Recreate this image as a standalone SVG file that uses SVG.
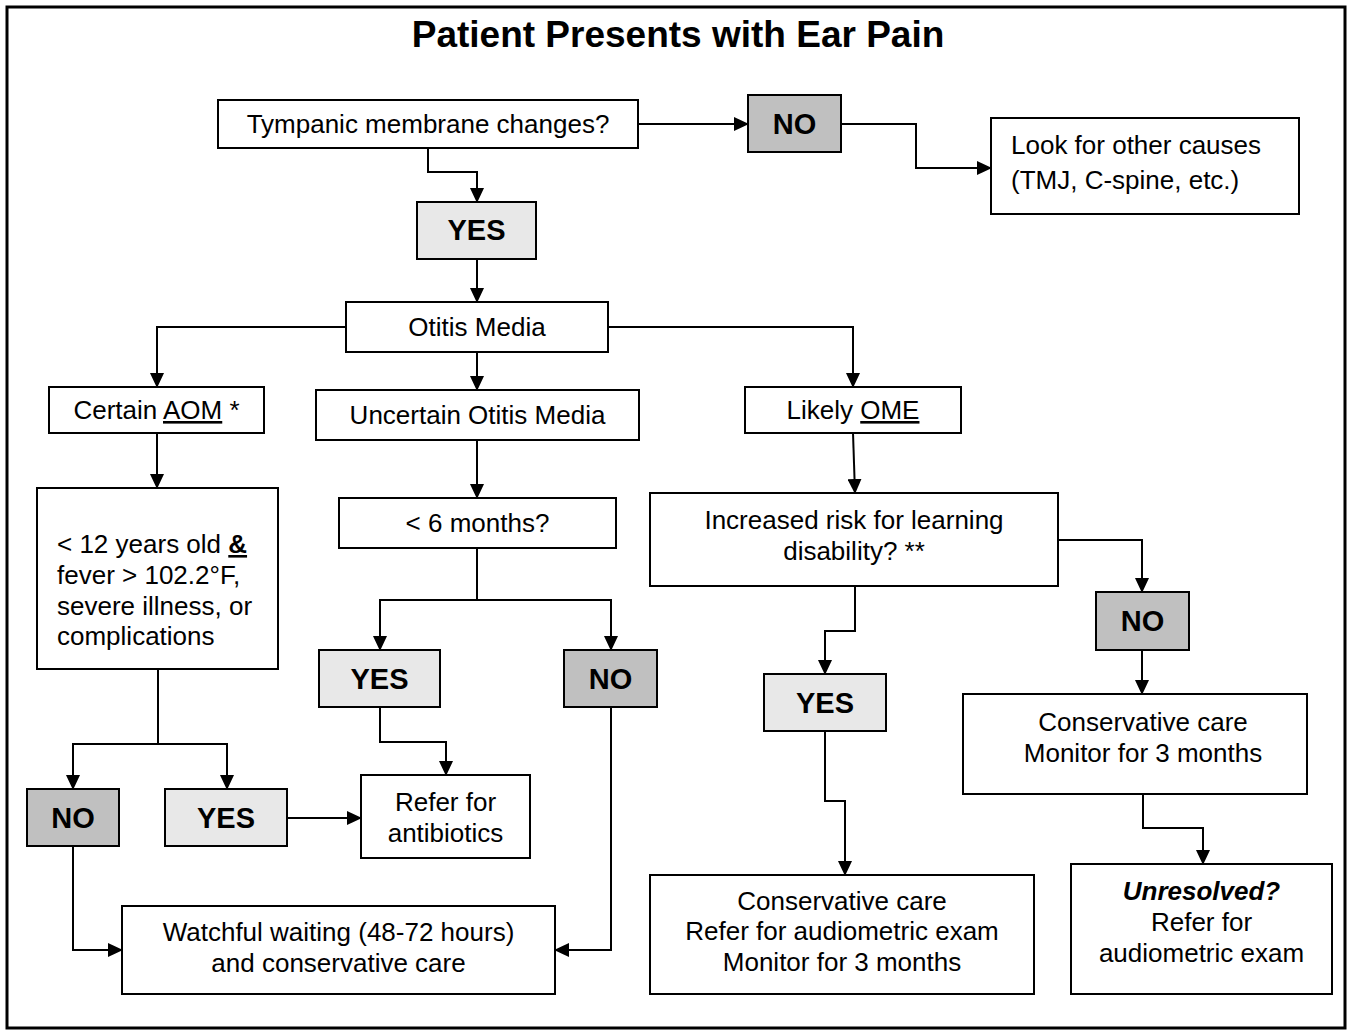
<svg xmlns="http://www.w3.org/2000/svg" width="1351" height="1032" viewBox="0 0 1351 1032">
<defs>
<marker id="arr" markerUnits="userSpaceOnUse" markerWidth="15" markerHeight="14" refX="14" refY="7" orient="auto">
<path d="M0,0 L15,7 L0,14 z" fill="#000"/>
</marker>
<style>
.box{fill:#fff;stroke:#000;stroke-width:2}
.yes{fill:#e8e8e8;stroke:#000;stroke-width:2}
.no{fill:#c0c0c0;stroke:#000;stroke-width:2}
.t{font-family:"Liberation Sans",Arial,sans-serif;font-size:26px;fill:#000;text-anchor:middle}
.tl{font-family:"Liberation Sans",Arial,sans-serif;font-size:26px;fill:#000}
.b{font-family:"Liberation Sans",Arial,sans-serif;font-size:29px;font-weight:bold;fill:#000;text-anchor:middle}
.c{fill:none;stroke:#000;stroke-width:2;marker-end:url(#arr)}
</style>
</defs>
<rect x="0" y="0" width="1351" height="1032" fill="#fff"/>
<rect x="7" y="7" width="1338" height="1021" fill="none" stroke="#000" stroke-width="3"/>
<text x="678" y="47" font-family="'Liberation Sans',Arial,sans-serif" font-size="37" font-weight="bold" text-anchor="middle">Patient Presents with Ear Pain</text>

<g id="connectors">
<path class="c" d="M638,124 H748"/>
<path class="c" d="M841,124 H916 V168 H991"/>
<path class="c" d="M428,148 V172 H477 V202"/>
<path class="c" d="M477,259 V302"/>
<path class="c" d="M346,327 H157 V387"/>
<path class="c" d="M477,352 V390"/>
<path class="c" d="M608,327 H853 V387"/>
<path class="c" d="M157,433 V488"/>
<path class="c" d="M477,440 V498"/>
<path class="c" d="M477,548 V600 H380 V650"/>
<path class="c" d="M477,600 H611 V650"/>
<path class="c" d="M853,433 L855,493"/>
<path class="c" d="M1058,540 H1142 V592"/>
<path class="c" d="M855,586 V631 H825 V674"/>
<path class="c" d="M1142,650 V694"/>
<path class="c" d="M825,731 V801 H845 V875"/>
<path class="c" d="M1143,794 V828 H1203 V864"/>
<path class="c" d="M158,669 V744 H73 V789"/>
<path class="c" d="M158,744 H227 V789"/>
<path class="c" d="M287,818 H361"/>
<path class="c" d="M380,707 V742 H446 V775"/>
<path class="c" d="M73,846 V950 H122"/>
<path class="c" d="M611,707 V950 H555"/>
</g>

<g id="n-tympanic"><rect class="box" x="218" y="100" width="420" height="48"/><text class="t" x="428" y="133">Tympanic membrane changes?</text></g>
<g id="n-no-top"><rect class="no" x="748" y="95" width="93" height="57"/><text class="b" x="794.5" y="134">NO</text></g>
<g id="n-look"><rect class="box" x="991" y="118" width="308" height="96"/><text class="tl" x="1011" y="154">Look for other causes</text><text class="tl" x="1011" y="189">(TMJ, C-spine, etc.)</text></g>
<g id="n-yes-top"><rect class="yes" x="417" y="202" width="119" height="57"/><text class="b" x="476.5" y="240">YES</text></g>
<g id="n-otitis"><rect class="box" x="346" y="302" width="262" height="50"/><text class="t" x="477" y="336">Otitis Media</text></g>
<g id="n-certain"><rect class="box" x="49" y="387" width="215" height="46"/><text class="t" x="156.5" y="419">Certain <tspan text-decoration="underline">AOM</tspan> *</text></g>
<g id="n-uncertain"><rect class="box" x="316" y="390" width="323" height="50"/><text class="t" x="477.5" y="424">Uncertain Otitis Media</text></g>
<g id="n-likely"><rect class="box" x="745" y="387" width="216" height="46"/><text class="t" x="853" y="419">Likely <tspan text-decoration="underline">OME</tspan></text></g>
<g id="n-age12"><rect class="box" x="37" y="488" width="241" height="181"/>
<text class="tl" x="57" y="553">&lt; 12 years old <tspan font-weight="bold" text-decoration="underline">&amp;</tspan></text>
<text class="tl" x="57" y="584">fever &gt; 102.2°F,</text>
<text class="tl" x="57" y="615">severe illness, or</text>
<text class="tl" x="57" y="645">complications</text></g>
<g id="n-6months"><rect class="box" x="339" y="498" width="277" height="50"/><text class="t" x="477.5" y="532">&lt; 6 months?</text></g>
<g id="n-risk"><rect class="box" x="650" y="493" width="408" height="93"/><text class="t" x="854" y="529">Increased risk for learning</text><text class="t" x="854" y="560">disability? **</text></g>
<g id="n-no-right"><rect class="no" x="1096" y="592" width="93" height="58"/><text class="b" x="1142.5" y="631">NO</text></g>
<g id="n-yes-mid"><rect class="yes" x="319" y="650" width="121" height="57"/><text class="b" x="379.5" y="689">YES</text></g>
<g id="n-no-mid"><rect class="no" x="564" y="650" width="93" height="57"/><text class="b" x="610.5" y="689">NO</text></g>
<g id="n-yes-right"><rect class="yes" x="764" y="674" width="122" height="57"/><text class="b" x="825" y="713">YES</text></g>
<g id="n-cons-monitor"><rect class="box" x="963" y="694" width="344" height="100"/><text class="t" x="1143" y="731">Conservative care</text><text class="t" x="1143" y="762">Monitor for 3 months</text></g>
<g id="n-no-left"><rect class="no" x="27" y="789" width="92" height="57"/><text class="b" x="73" y="828">NO</text></g>
<g id="n-yes-left"><rect class="yes" x="165" y="789" width="122" height="57"/><text class="b" x="226" y="828">YES</text></g>
<g id="n-antibiotics"><rect class="box" x="361" y="775" width="169" height="83"/><text class="t" x="445.5" y="811">Refer for</text><text class="t" x="445.5" y="842">antibiotics</text></g>
<g id="n-watchful"><rect class="box" x="122" y="906" width="433" height="88"/><text class="t" x="338.5" y="941">Watchful waiting (48-72 hours)</text><text class="t" x="338.5" y="972">and conservative care</text></g>
<g id="n-cons-refer"><rect class="box" x="650" y="875" width="384" height="119"/><text class="t" x="842" y="910">Conservative care</text><text class="t" x="842" y="940">Refer for audiometric exam</text><text class="t" x="842" y="971">Monitor for 3 months</text></g>
<g id="n-unresolved"><rect class="box" x="1071" y="864" width="261" height="130"/><text class="t" x="1201.5" y="900" font-weight="bold" font-style="italic">Unresolved?</text><text class="t" x="1201.5" y="931">Refer for</text><text class="t" x="1201.5" y="962">audiometric exam</text></g>
</svg>
